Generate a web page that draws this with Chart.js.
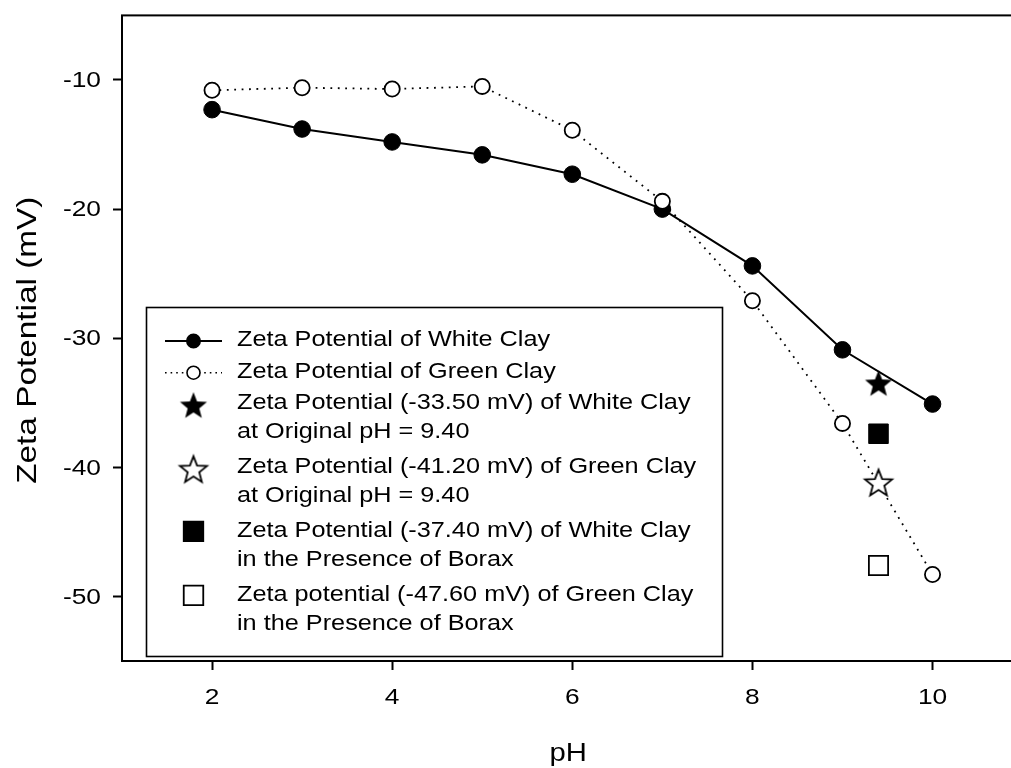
<!DOCTYPE html>
<html>
<head>
<meta charset="utf-8">
<title>Zeta Potential vs pH</title>
<script src="https://cdn.jsdelivr.net/npm/chart.js@4/dist/chart.umd.min.js"></script>
<style>
  html, body { margin: 0; padding: 0; background: #fff; overflow: hidden; }
  canvas { display: block; }
</style>
</head>
<body>
<canvas id="zeta" width="1038" height="768"></canvas>
<script>
// pH sweep and measured zeta potentials (mV)
const phValues = [2, 3, 4, 5, 6, 7, 8, 9, 10];
const whiteClay = [-12.3, -13.8, -14.8, -15.8, -17.3, -20.0, -24.4, -30.9, -35.1];
const greenClay = [-10.8, -10.6, -10.7, -10.5, -13.9, -19.4, -27.1, -36.6, -48.3];

// single measurements at the natural pH of the suspensions
const originalPH = 9.40;
const whiteOriginal = -33.50;
const greenOriginal = -41.20;
const whiteBorax = -37.40;
const greenBorax = -47.60;

// axis ticks
const xTicks = [2, 4, 6, 8, 10];
const yTicks = [-10, -20, -30, -40, -50];

const FONT = '"Liberation Sans", Arial, Helvetica, sans-serif';
const STRETCH = 1.17;

function starImage(filled) {
  const c = document.createElement('canvas');
  c.width = 34; c.height = 34;
  const g = c.getContext('2d');
  const R = 14.2, r = R * 0.43, cx = 17, cy = 18;
  g.beginPath();
  for (let i = 0; i < 10; i++) {
    const rad = i % 2 === 0 ? R : r;
    const a = -Math.PI / 2 + i * Math.PI / 5;
    const px = cx + rad * Math.cos(a), py = cy + rad * Math.sin(a);
    if (i === 0) g.moveTo(px, py); else g.lineTo(px, py);
  }
  g.closePath();
  g.lineJoin = 'miter';
  if (filled) { g.fillStyle = '#000'; g.fill(); }
  else { g.fillStyle = '#fff'; g.fill(); g.lineWidth = 1.8; g.strokeStyle = '#000'; g.stroke(); }
  return c;
}
const filledStar = starImage(true);
const openStar = starImage(false);

function drawText(ctx, s, x, y, size, align, rot) {
  ctx.save();
  ctx.translate(x, y);
  if (rot) ctx.rotate(rot);
  ctx.scale(STRETCH, 1);
  ctx.font = size + 'px ' + FONT;
  ctx.textAlign = align || 'left';
  ctx.textBaseline = 'middle';
  ctx.fillStyle = '#000';
  ctx.fillText(s, 0, 0);
  ctx.restore();
}

const mv = v => v.toFixed(2) + ' mV';
const legendEntries = [
  { kind: 'line', dash: [], style: 'circle', fill: '#000', radius: 6.7,
    lines: ['Zeta Potential of White Clay'] },
  { kind: 'line', dash: [1.6, 4], style: 'circle', fill: '#fff', radius: 6.5,
    lines: ['Zeta Potential of Green Clay'] },
  { kind: 'image', img: filledStar,
    lines: ['Zeta Potential (' + mv(whiteOriginal) + ') of White Clay', 'at Original pH = ' + originalPH.toFixed(2)] },
  { kind: 'image', img: openStar,
    lines: ['Zeta Potential (' + mv(greenOriginal) + ') of Green Clay', 'at Original pH = ' + originalPH.toFixed(2)] },
  { kind: 'rect', fill: '#000',
    lines: ['Zeta Potential (' + mv(whiteBorax) + ') of White Clay', 'in the Presence of Borax'] },
  { kind: 'rect', fill: '#fff',
    lines: ['Zeta potential (' + mv(greenBorax) + ') of Green Clay', 'in the Presence of Borax'] }
];

const framePlugin = {
  id: 'frameAndText',
  afterDraw(chart) {
    const ctx = chart.ctx;
    const a = chart.chartArea;
    const xs = chart.scales.x, ys = chart.scales.y;

    // plot frame
    ctx.save();
    ctx.strokeStyle = '#000';
    ctx.lineWidth = 2;
    ctx.strokeRect(a.left, a.top, a.right - a.left, a.bottom - a.top);
    ctx.restore();

    // tick labels
    ys.ticks.forEach(t => drawText(ctx, String(t.value), a.left - 21, ys.getPixelForValue(t.value) + 1, 22.5, 'right'));
    xs.ticks.forEach(t => drawText(ctx, String(t.value), xs.getPixelForValue(t.value), a.bottom + 37, 22.5, 'center'));

    // axis titles
    drawText(ctx, 'pH', (a.left + a.right) / 2 - 4, a.bottom + 93, 25, 'center');
    drawText(ctx, 'Zeta Potential (mV)', 28, (a.top + a.bottom) / 2 + 2, 28.5, 'center', -Math.PI / 2);

    // legend box
    const box = { left: 146.5, top: 307.5, right: 722.5, bottom: 656.5 };
    ctx.save();
    ctx.fillStyle = '#fff';
    ctx.fillRect(box.left, box.top, box.right - box.left, box.bottom - box.top);
    ctx.strokeStyle = '#000';
    ctx.lineWidth = 1.6;
    ctx.strokeRect(box.left, box.top, box.right - box.left, box.bottom - box.top);
    ctx.restore();

    const symX = 193.5, textX = 237, lineGap = 28.4;
    let y = 340;
    legendEntries.forEach(e => {
      ctx.save();
      ctx.strokeStyle = '#000';
      if (e.kind === 'line') {
        ctx.lineWidth = e.dash.length ? 1.6 : 2;
        ctx.setLineDash(e.dash);
        ctx.beginPath();
        ctx.moveTo(165, y + 1); ctx.lineTo(222, y + 1);
        ctx.stroke();
        ctx.setLineDash([]);
        ctx.fillStyle = e.fill;
        ctx.lineWidth = 1.6;
        Chart.helpers.drawPoint(ctx, { pointStyle: 'circle', radius: e.radius, borderWidth: 1.6, rotation: 0 }, symX, y + 1);
      } else if (e.kind === 'image') {
        ctx.drawImage(e.img, symX - e.img.width / 2, y + 2 - e.img.height / 2);
      } else {
        ctx.fillStyle = e.fill;
        ctx.lineWidth = 1.8;
        Chart.helpers.drawPoint(ctx, { pointStyle: 'rect', radius: 13.8, borderWidth: 1.8, rotation: 0 }, symX, y);
      }
      ctx.restore();
      e.lines.forEach((s, i) => drawText(ctx, s, textX, y + i * lineGap, 21.6, 'left'));
      y += e.lines.length > 1 ? 64 : 31.7;
    });
  }
};

const single = v => [{ x: originalPH, y: v }];

new Chart(document.getElementById('zeta'), {
  type: 'scatter',
  data: {
    datasets: [
      {
        label: 'Zeta Potential of Green Clay',
        data: phValues.map((x, i) => ({ x, y: greenClay[i] })),
        showLine: true,
        borderColor: '#000',
        borderWidth: 1.8,
        borderDash: [1.8, 5.6],
        pointStyle: 'circle',
        pointRadius: 7.6,
        pointHoverRadius: 7.6,
        pointBackgroundColor: '#fff',
        pointBorderColor: '#000',
        pointBorderWidth: 1.8,
        order: 1
      },
      {
        label: 'Zeta Potential of White Clay',
        data: phValues.map((x, i) => ({ x, y: whiteClay[i] })),
        showLine: true,
        borderColor: '#000',
        borderWidth: 2,
        pointStyle: 'circle',
        pointRadius: 8.3,
        pointHoverRadius: 8.3,
        pointBackgroundColor: '#000',
        pointBorderColor: '#000',
        pointBorderWidth: 1,
        order: 2
      },
      {
        label: 'White Clay at original pH',
        data: single(whiteOriginal),
        pointStyle: filledStar,
        order: 0
      },
      {
        label: 'Green Clay at original pH',
        data: single(greenOriginal),
        pointStyle: openStar,
        order: 0
      },
      {
        label: 'White Clay with Borax',
        data: single(whiteBorax),
        pointStyle: 'rect',
        pointRadius: 13.8,
        pointHoverRadius: 13.8,
        pointBackgroundColor: '#000',
        pointBorderColor: '#000',
        pointBorderWidth: 1,
        order: 0
      },
      {
        label: 'Green Clay with Borax',
        data: single(greenBorax),
        pointStyle: 'rect',
        pointRadius: 13.6,
        pointHoverRadius: 13.6,
        pointBackgroundColor: '#fff',
        pointBorderColor: '#000',
        pointBorderWidth: 1.8,
        order: 0
      }
    ]
  },
  options: {
    responsive: false,
    devicePixelRatio: 1,
    animation: false,
    layout: { padding: { top: 13, right: 0, left: 0, bottom: 0 } },
    plugins: { legend: { display: false }, tooltip: { enabled: false } },
    events: [],
    scales: {
      x: {
        type: 'linear',
        min: 1, max: 11,
        afterBuildTicks: s => { s.ticks = xTicks.map(v => ({ value: v })); },
        afterFit: s => { s.height = 107; },
        ticks: { display: false },
        border: { display: false },
        grid: { drawOnChartArea: false, drawTicks: true, tickLength: 9, tickWidth: 2, tickColor: '#000', color: '#000' }
      },
      y: {
        type: 'linear',
        min: -55, max: -5,
        afterBuildTicks: s => { s.ticks = yTicks.map(v => ({ value: v })); },
        afterFit: s => { s.width = 122; },
        ticks: { display: false },
        border: { display: false },
        grid: { drawOnChartArea: false, drawTicks: true, tickLength: 9, tickWidth: 2, tickColor: '#000', color: '#000' }
      }
    }
  },
  plugins: [framePlugin]
});
</script>
</body>
</html>
